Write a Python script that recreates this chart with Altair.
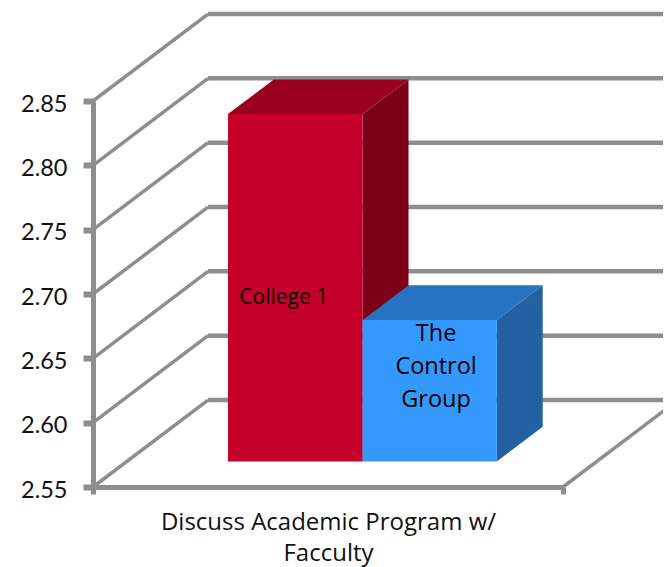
import altair as alt
import pandas as pd

categories = ["Discuss Academic Program w/", "Facculty"]
series = ["College 1", "The Control Group"]
values = [2.82, 2.66]
front_colors = ["#C4002B", "#3399FF"]
top_colors = ["#98001E", "#2673C2"]
side_colors = ["#7C0017", "#2361A3"]
y_ticks = [2.55, 2.60, 2.65, 2.70, 2.75, 2.80, 2.85]
bar_edges = [0.2155, 0.502, 0.7875]
label_lines = [["College 1"], ["The", "Control", "Group"]]
label_sizes = [21, 23.5]
label_x = [0.406, 0.73]
label_y = [2.6969, 2.6689]
label_step = 0.0256

GRID = "#8E8E8E"
FONT = "Open Sans"
DX, DY = 0.2447, 0.0676          # oblique projection of a full unit of depth
Z0, Z1 = 0.293, 0.692            # bars' front and back planes
BASE = y_ticks[0]


def px(x, z):
    return x + z * DX


def py(v, z):
    return v + z * DY


slant, wall = [], []
for t in y_ticks:
    slant += [dict(x=px(0, 0), y=py(t, 0), k=t), dict(x=px(0, 1), y=py(t, 1), k=t)]
    wall += [dict(x=px(0, 1), y=py(t, 1), k=t), dict(x=px(1, 1), y=py(t, 1), k=t)]
slant += [dict(x=px(1, 0), y=py(BASE, 0), k=9), dict(x=px(1, 1), y=py(BASE, 1), k=9)]

xs = alt.Scale(domain=[0, 1], nice=False, zero=False)
ys = alt.Scale(domain=[y_ticks[0], y_ticks[-1]], nice=False, zero=False)
x_axis = alt.Axis(
    title=categories, values=[0, 1], labels=False, grid=False,
    domainColor=GRID, domainWidth=5, tickColor=GRID, tickWidth=5, tickSize=7,
    titleFont=FONT, titleFontSize=24, titleFontWeight="normal", titleColor="#111111",
    titleLineHeight=31, titlePadding=14,
)
y_axis = alt.Axis(
    title=None, values=y_ticks, format=".2f", grid=False,
    domainColor=GRID, domainWidth=5, tickColor=GRID, tickWidth=6, tickSize=10,
    labelFont="Lato", labelFontSize=23.5, labelColor="#111111", labelPadding=16, labelOffset=3,
)
X = alt.X("x:Q", scale=xs, axis=x_axis)
Y = alt.Y("y:Q", scale=ys, axis=y_axis)

base_wall = alt.Chart(pd.DataFrame(wall)).mark_line(color=GRID, strokeWidth=4.5, clip=False).encode(
    x=X, y=Y, detail="k:N"
)
base_slant = alt.Chart(pd.DataFrame(slant)).mark_line(color=GRID, strokeWidth=3.5, clip=False).encode(
    x=X, y=Y, detail="k:N"
)

layers = [base_wall, base_slant]
for i, v in enumerate(values):
    a, b = bar_edges[i], bar_edges[i + 1]
    front = pd.DataFrame([
        dict(x=px(a, Z0), x2=px(b, Z0), y=py(BASE, Z0), y2=py(v, Z0))
    ])
    top = pd.DataFrame([
        dict(x=px(a, Z0), x2=px(b, Z0), y=py(v, Z0)),
        dict(x=px(a, Z1), x2=px(b, Z1), y=py(v, Z1)),
    ])
    side = pd.DataFrame([
        dict(x=px(b, Z0), y=py(BASE, Z0), y2=py(v, Z0)),
        dict(x=px(b, Z1), y=py(BASE, Z1), y2=py(v, Z1)),
    ])
    layers.append(
        alt.Chart(top).mark_area(color=top_colors[i], orient="horizontal", clip=False).encode(
            x=X, x2="x2:Q", y=Y
        )
    )
    layers.append(
        alt.Chart(side).mark_area(color=side_colors[i], orient="vertical", clip=False).encode(
            x=X, y=Y, y2="y2:Q"
        )
    )
    layers.append(
        alt.Chart(front).mark_rect(color=front_colors[i], clip=False).encode(
            x=X, x2="x2:Q", y=Y, y2="y2:Q"
        )
    )

for i, lines in enumerate(label_lines):
    rows = [dict(x=label_x[i], y=label_y[i] - j * label_step, t=line) for j, line in enumerate(lines)]
    layers.append(
        alt.Chart(pd.DataFrame(rows)).mark_text(
            font=FONT, fontSize=label_sizes[i], color="#000000", align="center",
            baseline="middle", clip=False
        ).encode(x=X, y=Y, text="t:N")
    )

chart = alt.layer(*layers).properties(
    width=470, height=386,
    padding={"left": 85, "top": 93, "right": 100, "bottom": 80},
    autosize=alt.AutoSizeParams(type="none"),
).configure_view(stroke=None)

chart.save("out.html", embed_options={"renderer": "svg", "actions": False})
